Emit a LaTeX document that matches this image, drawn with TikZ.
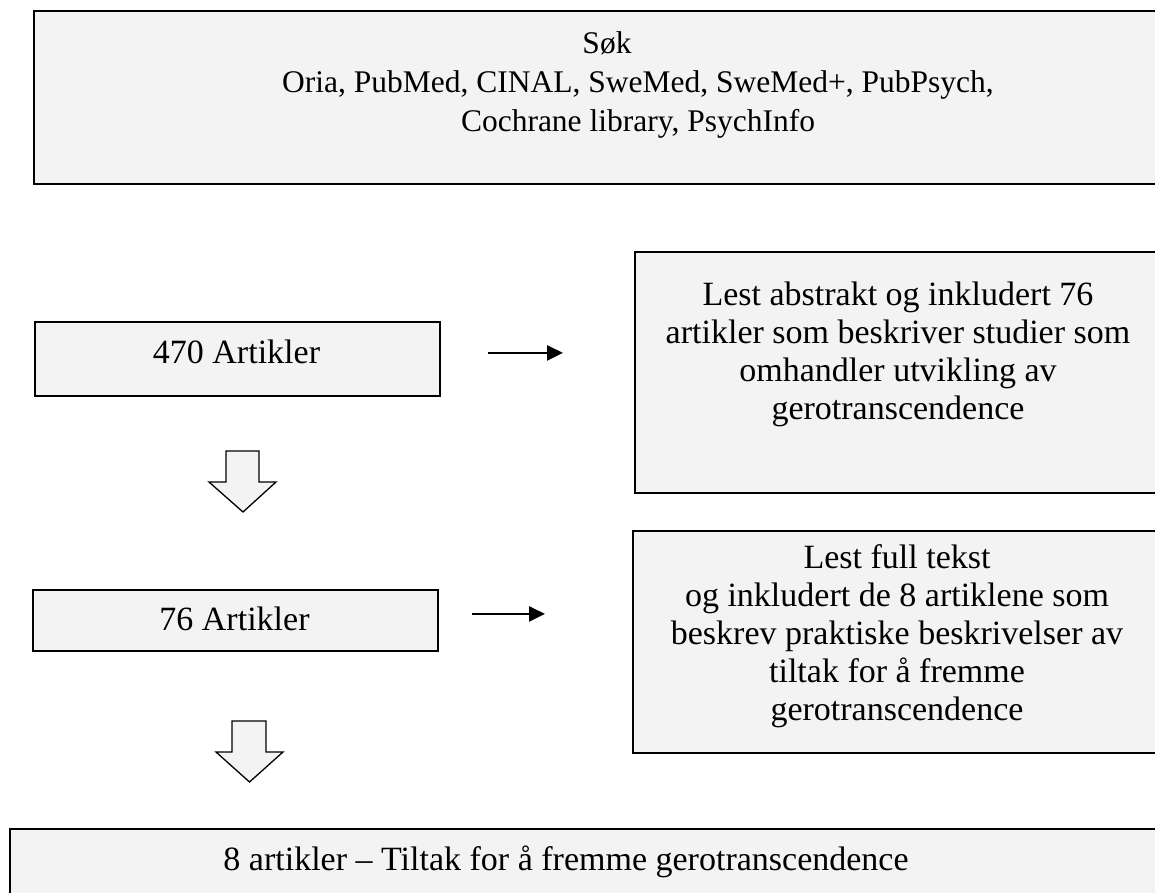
\documentclass[tikz,border=0pt]{standalone}
\usepackage{fontspec}
\setmainfont{Liberation Serif}
\usetikzlibrary{arrows.meta}
\definecolor{boksgraa}{RGB}{243,243,243}
\newcommand\tettlinjer{\lineskiplimit-50pt\relax}

\tikzset{
  boks/.style={draw=black, line width=1.8pt, fill=boksgraa, inner sep=0pt, anchor=north west},
  tekst/.style={align=center, inner sep=0pt, font=\fontsize{34pt}{38pt}\selectfont\tettlinjer},
  pil/.style={black, line width=2.6pt, -{Triangle[length=16pt,width=15pt]}},
  blokk/.style={draw=black, line width=1.3pt, fill=boksgraa, line join=miter}
}

\begin{document}
\begin{tikzpicture}[x=1pt,y=1pt]
    \clip (0,0) rectangle (1155,-892);

    \node[boks, minimum width=1200pt, minimum height=173pt] (sok) at (33,-10) {};
    \node[tekst, font=\fontsize{31.5pt}{39pt}\selectfont\tettlinjer] (soktekst) at (638,-84.7)
        {Søk\hspace*{62pt}\\ Oria, PubMed, CINAL, SweMed, SweMed+, PubPsych,\\ Cochrane library, PsychInfo};

    \node[boks, minimum width=405pt, minimum height=74pt] (a470) at (34,-321) {};
    \node[tekst] (a470tekst) at (236.5,-352) {470 Artikler};

    \node[boks, minimum width=540pt, minimum height=241pt] (lest1) at (634,-251) {};
    \node[tekst] (lest1tekst) at (898,-354)
        {Lest abstrakt og inkludert 76\\ artikler som beskriver studier som\\ omhandler utvikling av\\ gerotranscendence};

    \node[boks, minimum width=405pt, minimum height=61pt] (a76) at (32,-589) {};
    \node[tekst] (a76tekst) at (234.5,-619) {76 Artikler};

    \node[boks, minimum width=540pt, minimum height=222pt] (lest2) at (632,-530) {};
    \node[tekst] (lest2tekst) at (897,-636)
        {Lest full tekst\\ og inkludert de 8 artiklene som\\ beskrev praktiske beskrivelser av\\ tiltak for å fremme\\ gerotranscendence};

    \node[boks, minimum width=1160pt, minimum height=100pt] (a8) at (9,-828) {};
    \node[tekst] (a8tekst) at (566,-862) {8 artikler – Tiltak for å fremme gerotranscendence};

    \draw[pil, shorten <=47pt, shorten >=71pt, transform canvas={yshift=6pt}] (a470.east) -- (a470.east -| lest1.west);
    \draw[pil, shorten <=33pt, shorten >=87pt, transform canvas={yshift=6.5pt}] (a76.east) -- (a76.east -| lest2.west);

    \draw[blokk] (226,-451) -- (259,-451) -- (259,-482) -- (276,-482) -- (243,-512) -- (209,-482) -- (226,-482) -- cycle;
    \draw[blokk] (232,-721) -- (266,-721) -- (266,-752) -- (283,-752) -- (249.5,-782) -- (216,-752) -- (232,-752) -- cycle;

\end{tikzpicture}
\end{document}
